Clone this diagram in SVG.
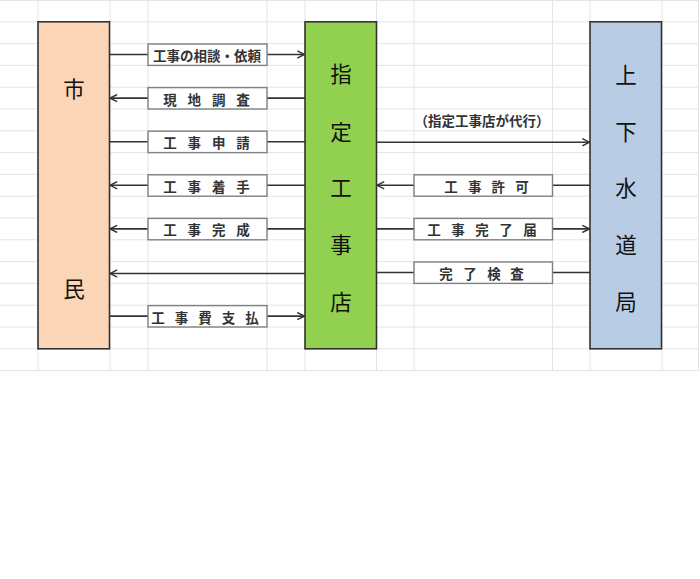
<svg xmlns="http://www.w3.org/2000/svg" width="700" height="579" viewBox="0 0 700 579">
<style>
.grid{fill:none;stroke:#e4e4e4;stroke-width:1}
.actor{stroke:#333;stroke-width:1.6}
.big{font-family:"Noto Sans CJK JP","Noto Sans CJK SC",sans-serif;font-size:21.5px;fill:#111;text-anchor:middle;dominant-baseline:central}
.lb{fill:#fff;stroke:#808080;stroke-width:1.4}
.lt{font-family:"Noto Sans CJK JP","Noto Sans CJK SC",sans-serif;font-size:13.5px;font-weight:bold;fill:#333;text-anchor:middle;dominant-baseline:central}
.cn{stroke:#333;stroke-width:1.6;fill:none}
</style>
<defs>
<marker id="ah" viewBox="0 0 10 10" refX="9.5" refY="5" markerWidth="9" markerHeight="9" markerUnits="userSpaceOnUse" orient="auto-start-reverse">
<path d="M1.5,1 L9.5,5 L1.5,9" fill="none" stroke="#333" stroke-width="1.6"/>
</marker>
</defs>
<rect width="700" height="579" fill="#fff"/>
<g id="grid">
<path class="grid" d="M0,0.5H699 M0,21.8H699 M0,43.6H699 M0,65.4H699 M0,87.2H699 M0,109H699 M0,130.8H699 M0,152.6H699 M0,174.4H699 M0,196.2H699 M0,218H699 M0,239.8H699 M0,261.6H699 M0,283.4H699 M0,305.2H699 M0,327H699 M0,348.8H699 M0,370.6H699 M38,0V371 M110,0V371 M148,0V371 M267,0V371 M305,0V371 M376.5,0V371 M414,0V371 M552.5,0V371 M590,0V371 M662,0V371 M698.5,0V371"/>
</g>
<g id="node-shimin">
<rect class="actor" x="38" y="21.8" width="71.5" height="327" fill="#FBD5B5"/>
<text class="big" x="74" y="87.5">市</text>
<text class="big" x="74" y="287.5">民</text>
</g>
<g id="node-koujiten">
<rect class="actor" x="305" y="21.8" width="71.5" height="327" fill="#92D050"/>
<text class="big" x="341" y="72.5">指</text>
<text class="big" x="341" y="130">定</text>
<text class="big" x="341" y="186.5">工</text>
<text class="big" x="341" y="243">事</text>
<text class="big" x="341" y="300">店</text>
</g>
<g id="node-suidoukyoku">
<rect class="actor" x="590" y="21.8" width="71.5" height="327" fill="#B8CCE4"/>
<text class="big" x="626" y="73.5">上</text>
<text class="big" x="626" y="130">下</text>
<text class="big" x="626" y="186.5">水</text>
<text class="big" x="626" y="243">道</text>
<text class="big" x="626" y="300">局</text>
</g>
<g id="connectors">
<line class="cn" x1="109.5" y1="54.5" x2="304.5" y2="54.5" marker-end="url(#ah)"/>
<line class="cn" x1="305" y1="98.1" x2="110" y2="98.1" marker-end="url(#ah)"/>
<line class="cn" x1="109.5" y1="141.7" x2="305" y2="141.7"/>
<line class="cn" x1="305" y1="185.3" x2="110" y2="185.3" marker-end="url(#ah)"/>
<line class="cn" x1="305" y1="228.9" x2="110" y2="228.9" marker-end="url(#ah)"/>
<line class="cn" x1="305" y1="273.5" x2="110" y2="273.5" marker-end="url(#ah)"/>
<line class="cn" x1="109.5" y1="316.1" x2="304.5" y2="316.1" marker-end="url(#ah)"/>
<line class="cn" x1="376.5" y1="142.2" x2="589.5" y2="142.2" marker-end="url(#ah)"/>
<line class="cn" x1="590" y1="185.3" x2="377" y2="185.3" marker-end="url(#ah)"/>
<line class="cn" x1="376.5" y1="228.9" x2="589.5" y2="228.9" marker-end="url(#ah)"/>
<line class="cn" x1="376.5" y1="272.5" x2="590" y2="272.5"/>
<text class="lt" x="482" y="120" font-size="13">（指定工事店が代行）</text>
</g>
<g id="label-soudan">
<rect class="lb" x="148" y="44" width="119" height="21.4"/>
<text class="lt" x="207" y="55">工事の相談・依頼</text>
</g>
<g id="label-genchi">
<rect class="lb" x="148" y="87.6" width="119" height="21.4"/>
<text class="lt" x="170 182.2 194.3 206.5 218.7 230.8 243" y="98.6">現 地 調 査</text>
</g>
<g id="label-shinsei">
<rect class="lb" x="148" y="131.2" width="119" height="21.4"/>
<text class="lt" x="170 182.2 194.3 206.5 218.7 230.8 243" y="142.2">工 事 申 請</text>
</g>
<g id="label-chakushu">
<rect class="lb" x="148" y="174.8" width="119" height="21.4"/>
<text class="lt" x="170 182.2 194.3 206.5 218.7 230.8 243" y="185.8">工 事 着 手</text>
</g>
<g id="label-kansei">
<rect class="lb" x="148" y="218.4" width="119" height="21.4"/>
<text class="lt" x="170 182.2 194.3 206.5 218.7 230.8 243" y="229.4">工 事 完 成</text>
</g>
<g id="label-shiharai">
<rect class="lb" x="148" y="305.6" width="119" height="21.4"/>
<text class="lt" x="158 169.8 181.5 193.3 205 216.8 228.5 240.3 252" y="316.6">工 事 費 支 払</text>
</g>
<g id="label-kyoka">
<rect class="lb" x="414" y="174.8" width="138.5" height="21.4"/>
<text class="lt" x="451 462.8 474.7 486.5 498.3 510.2 522" y="185.8">工 事 許 可</text>
</g>
<g id="label-kanryoutodoke">
<rect class="lb" x="414" y="218.4" width="138.5" height="21.4"/>
<text class="lt" x="434 446 458 470 482 494 506 518 530" y="229.4">工 事 完 了 届</text>
</g>
<g id="label-kensa">
<rect class="lb" x="414" y="262" width="138.5" height="21.4"/>
<text class="lt" x="446 458 470 482 494 505.5 517" y="273">完 了 検 査</text>
</g>
</svg>
